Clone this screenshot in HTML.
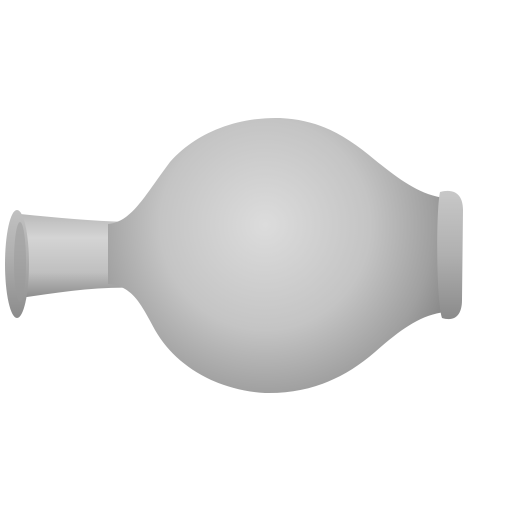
<!DOCTYPE html>
<html><head><meta charset="utf-8"><style>
html,body{margin:0;padding:0;background:#fff;width:512px;height:512px;overflow:hidden}
</style></head><body>
<svg width="512" height="512" viewBox="0 0 512 512">
<defs>
<radialGradient id="bodyG" cx="265" cy="225" r="210" gradientUnits="userSpaceOnUse">
<stop offset="0" stop-color="#dcdcdc"/>
<stop offset="0.5" stop-color="#c4c4c4"/>
<stop offset="0.8" stop-color="#a0a0a0"/>
<stop offset="1" stop-color="#7e7e7e"/>
</radialGradient>
<linearGradient id="neckG" x1="0" y1="212" x2="0" y2="298" gradientUnits="userSpaceOnUse">
<stop offset="0" stop-color="#b8b8b8"/>
<stop offset="0.3" stop-color="#d4d4d4"/>
<stop offset="0.7" stop-color="#c0c0c0"/>
<stop offset="1" stop-color="#8c8c8c"/>
</linearGradient>
<linearGradient id="rimG" x1="0" y1="190" x2="0" y2="320" gradientUnits="userSpaceOnUse">
<stop offset="0" stop-color="#c8c8c8"/>
<stop offset="0.5" stop-color="#b0b0b0"/>
<stop offset="1" stop-color="#8a8a8a"/>
</linearGradient>
</defs>
<path d="M20,214 C60,218 100,222 140,222 L140,288 C100,286 60,292 20,298 Z" fill="url(#neckG)"/>
<path d="M108,224 C132,222 145,195 170,162 C200,128 245,117 280,118 C320,120 345,135 375,160 C400,180 420,195 445,198 L445,312 C420,315 400,330 375,352 C345,378 310,394 265,393 C215,390 175,365 155,330 C140,302 132,286 108,284 Z" fill="url(#bodyG)"/>
<path d="M440,192 C455,188 463,195 463,210 L462,300 C462,315 455,322 442,318 C436,300 436,210 440,192 Z" fill="url(#rimG)"/>
<ellipse cx="17" cy="264" rx="12" ry="54" fill="url(#rimG)"/>
<ellipse cx="20" cy="262" rx="6" ry="40" fill="#9a9a9a" opacity="0.5"/>
</svg>
</body></html>
